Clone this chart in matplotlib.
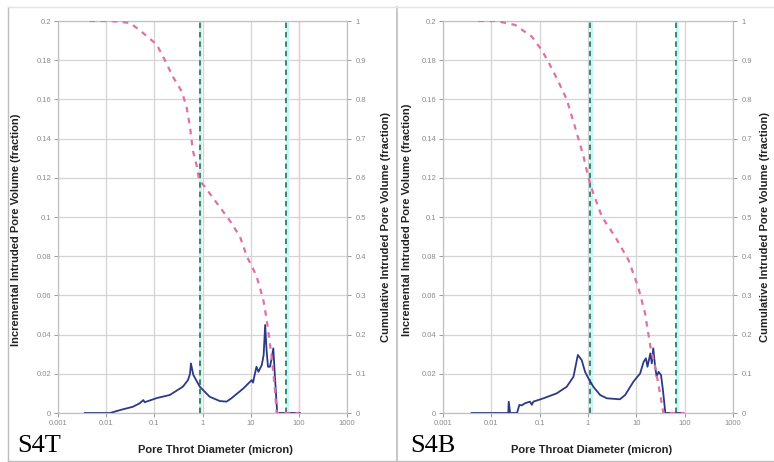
import matplotlib
matplotlib.use('Agg')
import matplotlib.pyplot as plt
from matplotlib.lines import Line2D

plt.rcParams['font.family'] = ['Liberation Sans', 'DejaVu Sans']

# S4T (left panel)
s4t_inc_d = [0.0036, 0.012, 0.0195, 0.036, 0.050, 0.059, 0.063, 0.112, 0.21, 0.39, 0.50, 0.55,
             0.575, 0.645, 0.88, 1.41, 2.29, 3.16, 3.98, 7.1, 10.5, 11.2, 12.0, 13.2, 14.5, 17.0,
             18.6, 20.0, 21.4, 22.9, 25.1, 26.9, 29.5, 31.6, 35.5, 105]
s4t_inc_v = [0, 0, 0.0015, 0.0032, 0.005, 0.0066, 0.0055, 0.0076, 0.0092, 0.0134, 0.0168, 0.020,
             0.0253, 0.0194, 0.0134, 0.0083, 0.0061, 0.0058, 0.0075, 0.0126, 0.0168, 0.0155, 0.019, 0.0236, 0.021, 0.0245,
             0.0296, 0.0449, 0.032, 0.0236, 0.0236, 0.027, 0.033, 0.0202, 0.0, 0.0]
s4t_cum_d = [0.0045, 0.0126, 0.0316, 0.0575, 0.112, 0.166, 0.245, 0.372, 0.468, 0.55, 0.63, 0.76,
             0.85, 1.12, 2.0, 3.72, 6.0, 8.3, 13.2, 18.2, 21.4, 26.9, 31.6, 34.7, 100]
s4t_cum_v = [1.0, 1.0, 0.995, 0.97, 0.94, 0.90, 0.857, 0.82, 0.78, 0.73, 0.67, 0.63,
             0.595, 0.577, 0.535, 0.49, 0.45, 0.40, 0.35, 0.29, 0.24, 0.15, 0.066, 0.0, 0.0]
s4t_marks = [0.88, 54]

# S4B (right panel)
s4b_inc_d = [0.0039, 0.0224, 0.0229, 0.0245, 0.034, 0.038, 0.0427, 0.050, 0.063, 0.069, 0.074,
             0.12, 0.224, 0.363, 0.50, 0.617, 0.74, 0.87, 1.02, 1.29, 1.78, 2.45, 4.57, 5.89, 8.7,
             12.0, 14.1, 15.8, 17.0, 19.5, 20.9, 22.4, 24.5, 26.3, 28.8, 32.4, 35.5, 39.8, 81]
s4b_inc_v = [0, 0, 0.0058, 0, 0, 0.0041, 0.0039, 0.0050, 0.0058, 0.0042, 0.0058,
             0.0075, 0.010, 0.0134, 0.0185, 0.0296, 0.027, 0.021, 0.0177, 0.0134, 0.0092, 0.0075, 0.0070, 0.0092, 0.016,
             0.0202, 0.026, 0.0279, 0.0236, 0.0304, 0.0253, 0.033, 0.0236, 0.0185, 0.021, 0.0194, 0.0117, 0, 0]
s4b_cum_d = [0.0054, 0.0126, 0.031, 0.069, 0.11, 0.151, 0.245, 0.363, 0.537, 0.81, 1.02, 1.29,
             1.95, 3.63, 6.9, 11.0, 15.1, 19.5, 24.5, 30.9, 36.3, 100]
s4b_cum_v = [1.0, 1.0, 0.99, 0.96, 0.926, 0.896, 0.845, 0.80, 0.73, 0.654, 0.60, 0.56,
             0.50, 0.45, 0.39, 0.32, 0.255, 0.17, 0.118, 0.05, 0.0, 0.0]
s4b_marks = [1.1, 66]

x_ticks = [0.001, 0.01, 0.1, 1, 10, 100, 1000]
x_tick_labels = ['0.001', '0.01', '0.1', '1', '10', '100', '1000']
y_ticks = [0, 0.02, 0.04, 0.06, 0.08, 0.1, 0.12, 0.14, 0.16, 0.18, 0.2]
y_tick_labels = ['0', '0.02', '0.04', '0.06', '0.08', '0.1', '0.12', '0.14', '0.16', '0.18', '0.2']
y2_ticks = [0, 0.1, 0.2, 0.3, 0.4, 0.5, 0.6, 0.7, 0.8, 0.9, 1]
y2_tick_labels = ['0', '0.1', '0.2', '0.3', '0.4', '0.5', '0.6', '0.7', '0.8', '0.9', '1']

fig = plt.figure(figsize=(7.74, 4.62), dpi=100)
tick_col = '#8a8a8a'
grid_col = '#d4d4d4'


def panel(rect, inc_d, inc_v, cum_d, cum_v, marks, pink_grid):
    ax = fig.add_axes(rect)
    ax.set_xscale('log')
    ax.set_xlim(0.001, 1000)
    ax.set_ylim(0, 0.2)
    ax.set_xticks(x_ticks)
    ax.set_xticklabels(x_tick_labels)
    ax.minorticks_off()
    ax.set_yticks(y_ticks)
    ax.set_yticklabels(y_tick_labels)
    ax.grid(True, color=grid_col, lw=0.9)
    ax.set_axisbelow(True)
    if pink_grid:
        ax.axvline(100, color='#f3c6d8', lw=1.0, zorder=1)
    for s in ax.spines.values():
        s.set_color('#c0c0c0')
    ax.tick_params(colors=tick_col, labelsize=5.5, length=3, width=0.6, pad=2)
    for m in marks:
        ax.axvline(m * 1.03, color='#c8f4f4', lw=2.2, zorder=2)
        ax.axvline(m, color='#2f7d62', lw=1.3, dashes=(3, 2.2), zorder=3)
    ax.plot(inc_d, inc_v, color='#2c3a86', lw=1.3, zorder=5)

    ax2 = ax.twinx()
    ax2.set_ylim(0, 1)
    ax2.set_yticks(y2_ticks)
    ax2.set_yticklabels(y2_tick_labels)
    ax2.tick_params(colors=tick_col, labelsize=5.5, length=3, width=0.6, pad=3)
    for s in ax2.spines.values():
        s.set_color('#c0c0c0')
    ax2.plot(cum_d, cum_v, color='#e070a6', lw=1.6, dashes=(2.5, 2.5), zorder=4)
    return ax


panel([58 / 774, 1 - 413 / 462, 289 / 774, 392 / 462], s4t_inc_d, s4t_inc_v,
      s4t_cum_d, s4t_cum_v, s4t_marks, True)
panel([443 / 774, 1 - 413 / 462, 290 / 774, 392 / 462], s4b_inc_d, s4b_inc_v,
      s4b_cum_d, s4b_cum_v, s4b_marks, False)

lab = dict(fontsize=8, fontweight='bold', color='#222222', rotation=90, ha='center', va='center')
fig.text(16 / 774, 1 - 230 / 462, 'Incremental Intruded Pore Volume (fraction)', **lab)
fig.text(386 / 774, 1 - 227 / 462, 'Cumulative Intruded Pore Volume (fraction)', **lab)
fig.text(407 / 774, 1 - 220 / 462, 'Incremental Intruded Pore Volume (fraction)', **lab)
fig.text(765 / 774, 1 - 227 / 462, 'Cumulative Intruded Pore Volume (fraction)', **lab)

fig.text(215 / 774, 1 - 450 / 462, 'Pore Throt Diameter (micron)', fontsize=8, fontweight='bold',
         color='#222222', ha='center', va='center')
fig.text(592 / 774, 1 - 450 / 462, 'Pore Throat Diameter (micron)', fontsize=8, fontweight='bold',
         color='#222222', ha='center', va='center')

fig.text(17 / 774, 1 - 452 / 462, 'S4T', family='Liberation Serif', fontsize=19, color='black',
         ha='left', va='baseline')
fig.text(410 / 774, 1 - 452 / 462, 'S4B', family='Liberation Serif', fontsize=19, color='black',
         ha='left', va='baseline')

# panel frames
frame = '#bdbdbd'
fig.add_artist(Line2D([8 / 774, 8 / 774], [0, 1 - 7 / 462], transform=fig.transFigure, color=frame, lw=1))
fig.add_artist(Line2D([397 / 774, 397 / 774], [0, 1 - 7 / 462], transform=fig.transFigure, color=frame, lw=1.2))
fig.add_artist(Line2D([8 / 774, 1], [1 - 7 / 462, 1 - 7 / 462], transform=fig.transFigure, color='#e4e4e4', lw=1))
fig.add_artist(Line2D([8 / 774, 1], [1 / 462, 1 / 462], transform=fig.transFigure, color=frame, lw=1))

fig.savefig('out.png', dpi=100)
